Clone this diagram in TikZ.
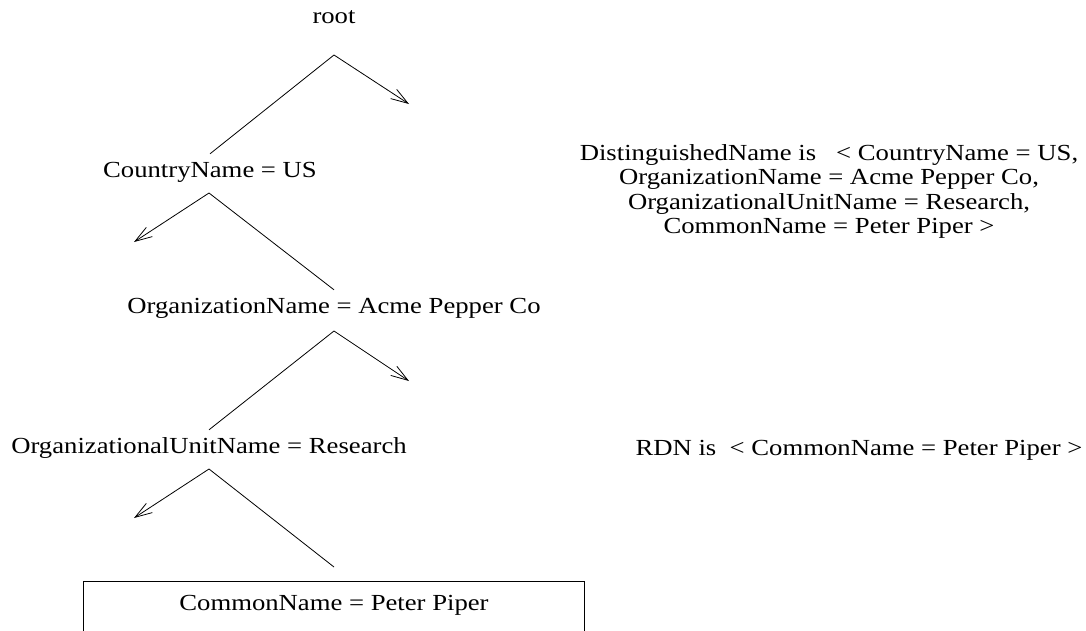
\documentclass[tikz,border=0pt]{standalone}
\usepackage{fontspec}
\setmainfont[FakeStretch=1.16]{Liberation Serif}
\usetikzlibrary{arrows.meta}
\begin{document}
\begin{tikzpicture}[x=1pt,y=-1pt,
  lbl/.style={font=\fontsize{23}{23}\selectfont, inner xsep=0pt, inner ysep=7pt,
              text height=16pt, text depth=5pt, anchor=base},
  edge/.style={line width=0.8pt},
  arr/.style={edge, -{Straight Barb[length=17pt,width=11pt]}}]
\useasboundingbox (0,0) rectangle (1086,630);

\node[lbl] (root) at (334,23) {root};
\coordinate (a1) at (334,55);
\coordinate (r1) at (409,104);
\node[lbl] (us) at (210,177) {CountryName = US};
\coordinate (a2) at (209,193);
\coordinate (l2) at (134,242);
\node[lbl] (org) at (334,313) {OrganizationName = Acme Pepper Co};
\coordinate (a3) at (334,331);
\coordinate (r3) at (409,381);
\node[lbl] (ou) at (209,453) {OrganizationalUnitName = Research};
\coordinate (a4) at (209,469);
\coordinate (l4) at (134,518);
\coordinate (e4) at (334,567);
\node[lbl, minimum width=500pt] (cn) at (334,610) {CommonName = Peter Piper};

\draw[edge] ([yshift=-40pt]cn.south west) -- ([yshift=5pt]cn.north west)
  -- ([yshift=5pt]cn.north east) -- ([yshift=-40pt]cn.south east);

\draw[edge] (a1) -- (us.north);
\draw[arr] (a1) -- (r1);
\draw[arr] (a2) -- (l2);
\draw[edge] (a2) -- (org.north);
\draw[arr] (a3) -- (r3);
\draw[edge] (a3) -- (ou.north);
\draw[arr] (a4) -- (l4);
\draw[edge] (a4) -- (e4);

\node[font=\fontsize{23}{23}\selectfont, align=center, anchor=north, inner sep=0pt] (dn) at (829,144)
  {DistinguishedName is \ \ < CountryName = US,\\[1.5pt]
   OrganizationName = Acme Pepper Co,\\[1.5pt]
   OrganizationalUnitName = Research,\\[1.5pt]
   CommonName = Peter Piper >};
\node[lbl] (rdn) at (859,455) {RDN is \ < CommonName = Peter Piper >};
\end{tikzpicture}
\end{document}
